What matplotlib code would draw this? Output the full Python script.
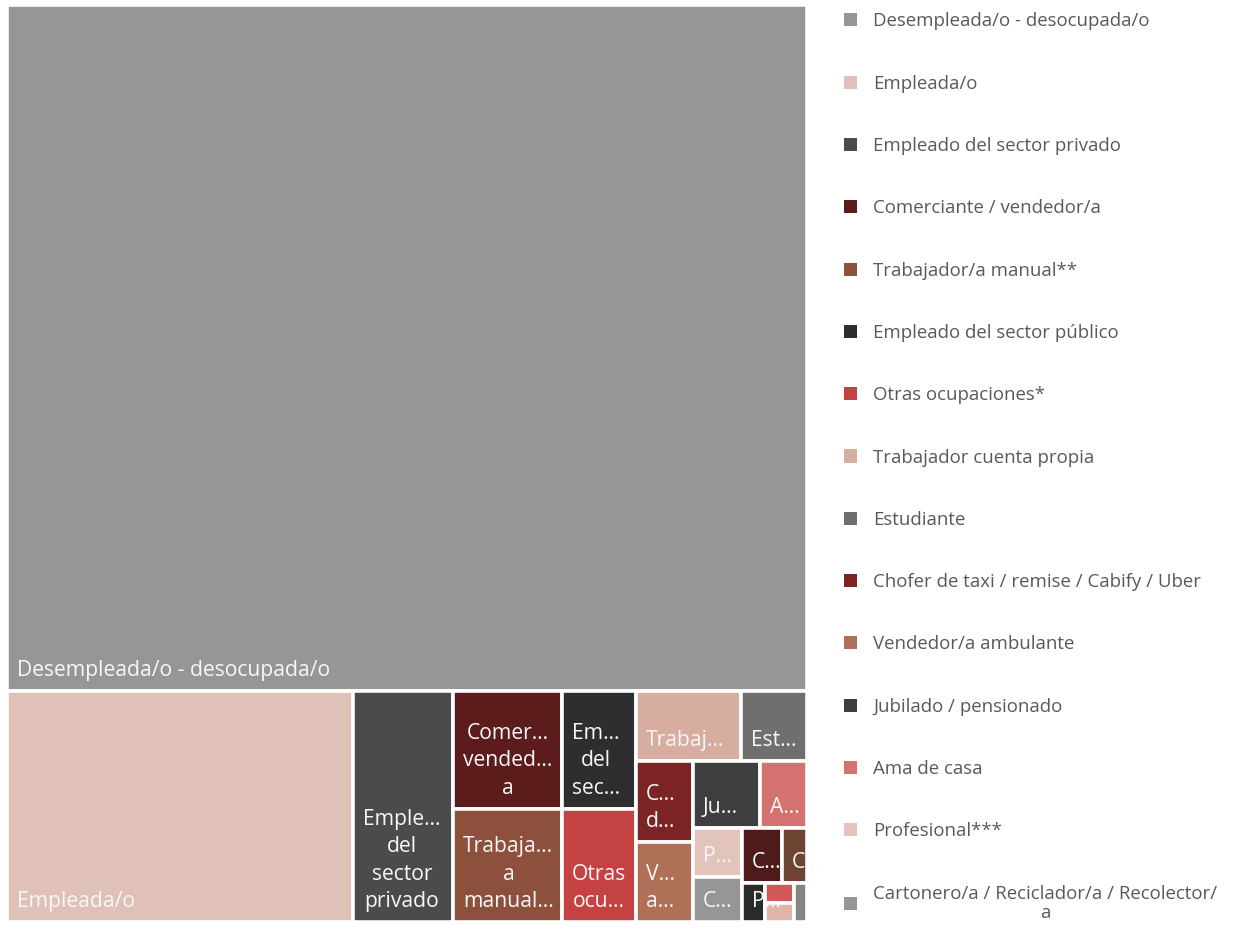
import matplotlib
matplotlib.use("Agg")
import matplotlib.pyplot as plt
from matplotlib.patches import Rectangle, Patch

plt.rcParams['font.family'] = ['Open Sans', 'DejaVu Sans']

# Occupation shares (%), in drawing order
categories = [
    "Desempleada/o - desocupada/o", "Empleada/o", "Empleado del sector privado",
    "Comerciante / vendedor/a", "Trabajador/a manual**", "Empleado del sector público",
    "Otras ocupaciones*", "Trabajador cuenta propia", "Estudiante",
    "Chofer de taxi / remise / Cabify / Uber", "Vendedor/a ambulante",
    "Jubilado / pensionado", "Ama de casa", "Profesional***",
    "Cartonero/a / Reciclador/a / Recolector/\na",
    "Changarín/a", "Cuidador/a", "Personal doméstico", "Docente", "Otros", "Ns/Nc",
]
values = [74.8, 10.9, 3.14, 1.75, 1.68, 1.18, 1.14, 1.01, 0.63, 0.63, 0.62,
          0.61, 0.43, 0.33, 0.30, 0.30, 0.19, 0.12, 0.08, 0.075, 0.068]
colors = ["#969696", "#E0C1B7", "#4B4B4B", "#5C1C1C", "#8C503C", "#2E2E2E",
          "#C44242", "#D6AD9F", "#716E6E", "#7C2424", "#B07058", "#3E3E3E",
          "#D47272", "#E3C4BA", "#969696", "#4F1A1A", "#6F4332", "#2A2A2A",
          "#D05858", "#DEB6AA", "#858585"]
# labels as they show inside the tiles (truncated by the tile size)
tile_labels = ["Desempleada/o - desocupada/o", "Empleada/o", "Emple…\ndel\nsector\nprivado",
               "Comer…\nvended…\na", "Trabaja…\na\nmanual…", "Em…\ndel\nsec…",
               "Otras\nocu…", "Trabaj…", "Est…", "C…\nd…", "V…\na…", "Ju…", "A…",
               "P…", "C…", "C…", "C…", "P…", "", "", ""]
# number of tiles in each strip of the layout
strips = [1, 1, 1, 2, 2, 2, 2, 2, 2, 2, 1, 2, 1]
n_legend = 15


def strip_layout(vals, strips, x, y, w, h):
    scale = w * h / sum(vals)
    rects = []
    i = 0
    for n in strips:
        group = vals[i:i + n]
        area = sum(group) * scale
        if w < h:
            # row along the top
            rh = area / w
            xx = x
            for v in group:
                cw = v * scale / rh
                rects.append((xx, y + h - rh, cw, rh))
                xx += cw
            h -= rh
        else:
            # column on the left
            cw = area / h
            yy = y + h
            for v in group:
                rh = v * scale / cw
                yy -= rh
                rects.append((x, yy, cw, rh))
            x += cw
            w -= cw
        i += n
    return rects


W, H = 800, 917
fig = plt.figure(figsize=(12.5, 9.31), dpi=100)
ax = fig.add_axes([7 / 1250, 1 - 922 / 931, W / 1250, H / 931])
ax.set_xlim(0, W)
ax.set_ylim(0, H)
ax.axis("off")

rects = strip_layout(values, strips, 0, 0, W, H)
for (x, y, w, h), c, lab in zip(rects, colors, tile_labels):
    r = Rectangle((x, y), w, h, facecolor=c, edgecolor="white", linewidth=2.6)
    ax.add_patch(r)
    if lab:
        t = ax.text(x + 10, y + 10, lab, color="#F7F7F7", fontsize=15.2,
                    ha="left", va="bottom", multialignment="center", linespacing=1.4)
        t.set_clip_path(r)

handles = [Patch(facecolor=c, edgecolor="none") for c in colors[:n_legend]]
leg = fig.legend(handles, categories[:n_legend], loc="upper left",
                 bbox_to_anchor=(837 / 1250, 1 - 5 / 931), frameon=False, borderaxespad=0,
                 fontsize=13.4, labelspacing=2.38, handlelength=0.7, handleheight=0.7,
                 handletextpad=0.85, labelcolor="#595959")
for t in leg.get_texts():
    t.set_multialignment("center")
    t.set_linespacing(1.1)

fig.savefig("out.png", dpi=100)
